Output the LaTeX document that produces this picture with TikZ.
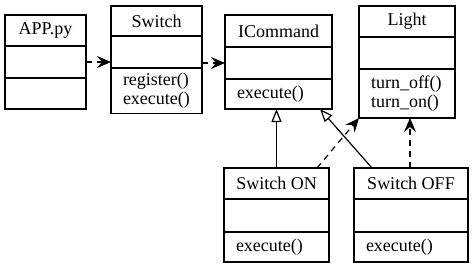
\documentclass[tikz,border=0pt]{standalone}
\usepackage{fontspec}
\setmainfont{Liberation Serif}
\usetikzlibrary{arrows.meta, positioning}

\begin{document}
\begin{tikzpicture}[
  x=1pt, y=-1pt,
  node distance=0pt,
  every node/.style={font=\fontsize{18}{19}\selectfont},
  head/.style={rectangle, draw, line width=1.2pt, inner sep=0pt, outer sep=0pt,
               minimum height=31pt, align=center},
  attr/.style={rectangle, draw, line width=1.2pt, inner sep=0pt, outer sep=0pt,
               minimum height=32pt},
  meth/.style={rectangle, draw, line width=1.2pt, inner ysep=5pt, inner xsep=12pt,
               outer sep=0pt, minimum height=31pt, align=left},
  uses/.style={-{Stealth[length=14pt, width=12pt, inset=5pt]}, dashed,
               dash pattern=on 6pt off 5pt, line width=1.2pt},
  isa/.style={-{Triangle[open, length=13pt, width=10pt]}, line width=1.2pt},
]
\useasboundingbox (0,0) rectangle (474,268);

% APP.py
\node[head, minimum width=81pt, anchor=north west] (apph) at (5,15) {APP.py};
\node[attr, minimum width=81pt, below=of apph] (appa) {};
\node[meth, text width=57pt, below=of appa] (appm) {};

% Switch (invoker)
\node[head, minimum width=91pt, minimum height=30pt, anchor=north west] (swh) at (111,6) {Switch};
\node[attr, minimum width=91pt, below=of swh] (swa) {};
\node[meth, text width=67pt, below=of swa] (swm) {register()\\execute()};

% ICommand
\node[head, minimum width=107pt, minimum height=32pt, anchor=north west] (icmh) at (225,15) {ICommand};
\node[attr, minimum width=107pt, below=of icmh] (icma) {};
\node[meth, text width=83pt, minimum height=30pt, below=of icma] (icmm) {execute()};

% Light (receiver)
\node[head, minimum width=96pt, anchor=north west] (lighth) at (359,6) {Light};
\node[attr, minimum width=96pt, below=of lighth] (lighta) {};
\node[meth, text width=72pt, minimum height=49pt, below=of lighta] (lightm) {turn\_off()\\turn\_on()};

% concrete commands
\node[head, minimum width=105pt, anchor=north west] (onh) at (224,168) {Switch ON};
\node[attr, minimum width=105pt, minimum height=33pt, below=of onh] (ona) {};
\node[meth, text width=81pt, minimum height=30pt, below=of ona] (onm) {execute()};

\node[head, minimum width=114pt, anchor=north west] (offh) at (354,168) {Switch OFF};
\node[attr, minimum width=114pt, minimum height=33pt, below=of offh] (offa) {};
\node[meth, text width=90pt, minimum height=30pt, below=of offa] (offm) {execute()};

% dependencies
\draw[uses] (appa.east) -- (appa.east -| swa.west);
\draw[uses] (swa.east |- icma) -- (icma.west);
\draw[uses] ([xshift=-12pt]onh.north east) -- (lightm.south west);
\draw[uses] ([xshift=-1pt]offh.north) -- ([xshift=-1pt]offh.north |- lightm.south);

% realisation of ICommand
\draw[isa] (onh.north) -- (onh.north |- icmm.south);
\draw[isa] ([xshift=18pt]offh.north west) -- ([xshift=-12pt]icmm.south east);
\end{tikzpicture}
\end{document}
